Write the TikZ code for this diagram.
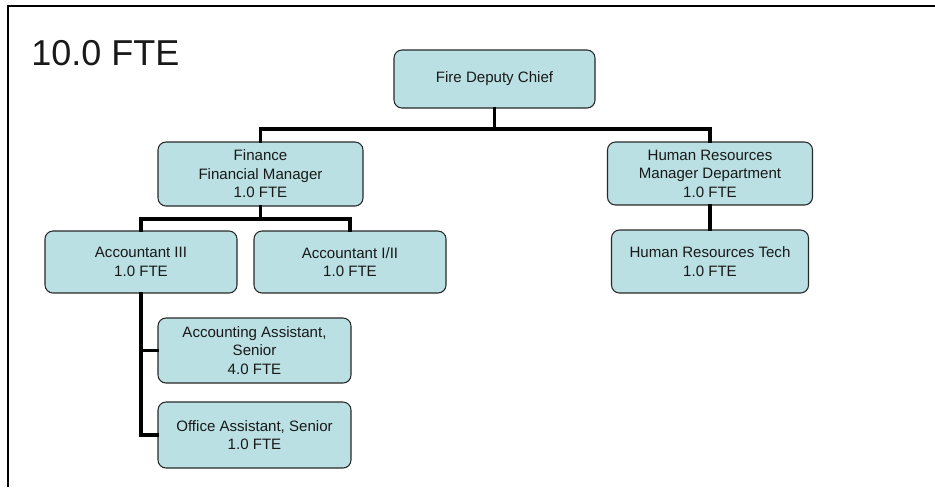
\documentclass[tikz,border=0pt]{standalone}
\usepackage{fontspec}
\setmainfont{Liberation Sans}
\definecolor{boxfill}{RGB}{186,224,227}
\definecolor{boxline}{RGB}{40,40,40}
\definecolor{txt}{RGB}{25,25,25}
\begin{document}
\begin{tikzpicture}[x=0.75pt,y=-0.75pt,
  orgbox/.style={draw=boxline,line width=0.8pt,fill=boxfill,rounded corners=6pt,
    align=center,inner sep=0pt,text=txt,
    font=\fontsize{11.3}{13.8}\selectfont},
  link/.style={line width=2.3pt,line cap=rect},
  frameline/.style={line width=1.6pt}]
\useasboundingbox (0,0) rectangle (935,487);
% frame
\coordinate (fb) at (8,487);
\coordinate (ftl) at (8,6);
\coordinate (ftr) at (935,6);
\draw[frameline] (fb) -- (ftl) -- (ftr);
% title
\node[anchor=base west,inner sep=0pt,text=txt,font=\fontsize{27}{31}\selectfont] (title) at (31,65) {10.0 FTE};
% boxes
\node[orgbox,minimum width=150.75pt,minimum height=43.5pt] (chief) at (494.5,79) {Fire Deputy Chief};
\node[orgbox,minimum width=153.75pt,minimum height=48pt] (fin) at (260.5,174) {Finance\\Financial Manager\\1.0 FTE};
\node[orgbox,minimum width=153.75pt,minimum height=47.25pt] (hr) at (710,173.5) {Human Resources\\Manager Department\\1.0 FTE};
\node[orgbox,minimum width=144pt,minimum height=46.5pt] (a3) at (141,262) {Accountant III\\1.0 FTE};
\node[orgbox,minimum width=144pt,minimum height=46.5pt] (a12) at (350,262) {Accountant I/II\\1.0 FTE};
\node[orgbox,minimum width=147.75pt,minimum height=47.25pt] (hrt) at (710,261.5) {Human Resources Tech\\1.0 FTE};
\node[orgbox,minimum width=144.75pt,minimum height=48.75pt] (aas) at (254.5,350.5) {Accounting Assistant,\\Senior\\4.0 FTE};
\node[orgbox,minimum width=144.75pt,minimum height=49.5pt] (oas) at (254.5,435) {Office Assistant, Senior\\1.0 FTE};
% connectors
\coordinate (bus1) at (0,129);
\coordinate (bus2) at (0,219);
\draw[link] (chief.south) -- (chief.south |- bus1);
\draw[link] (fin.north) -- (fin.north |- bus1) -- (hr.north |- bus1) -- (hr.north);
\draw[link] (fin.south) -- (fin.south |- bus2);
\draw[link] (a3.north) -- (a3.north |- bus2) -- (a12.north |- bus2) -- (a12.north);
\draw[link] (hr.south) -- (hrt.north);
\draw[link] (a3.south) -- (a3.south |- oas.west) -- (oas.west);
\draw[link] (a3.south |- aas.west) -- (aas.west);
\end{tikzpicture}
\end{document}
